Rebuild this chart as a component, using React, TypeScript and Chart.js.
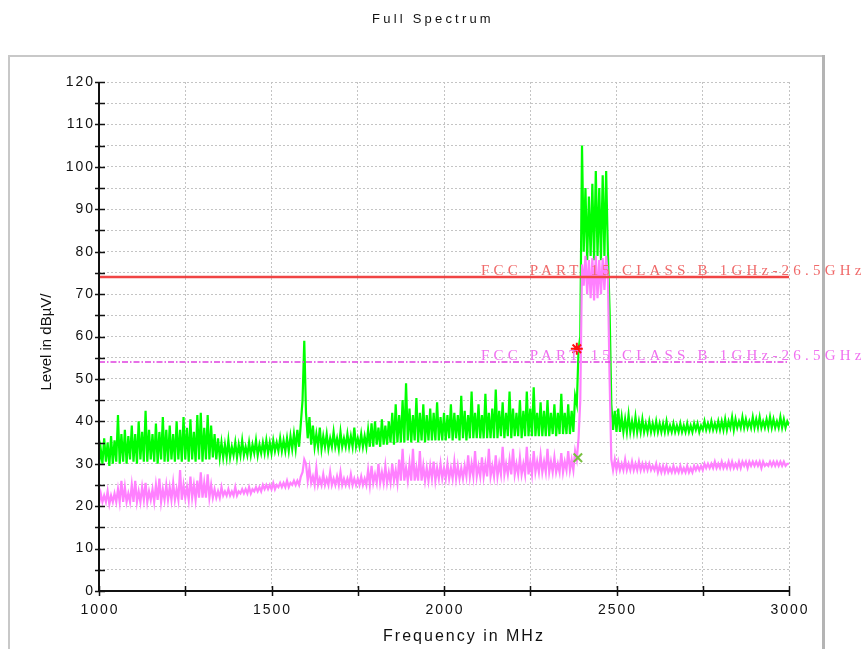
import React, { useEffect, useRef } from 'react';
import { Chart, registerables } from 'chart.js';

Chart.register(...registerables);

// Frequency grid: F_START + i * F_STEP (MHz)
const F_START = 1000;
const F_STEP = 5;

// Peak detector trace (dBµV), one value every 5 MHz from 1000 to 3000 MHz
const peakLevels: number[] = [
  // 1000
  30, 33.5, 30, 36, 30.5, 35, 29.5, 36.5, 30, 35.5, 30.5, 41.5, 30, 37, 30.5, 38, 30, 36.5, 31, 39,
  // 1100
  30.5, 37, 30, 40, 31, 37.5, 30.5, 42.5, 30.5, 38, 31, 37, 30.5, 39.5, 30, 37.5, 31, 41, 30.5, 38,
  // 1200
  30.5, 39, 31, 37, 30.5, 40, 31, 38, 30.5, 41, 31, 38.5, 30.5, 40.5, 31, 37.5, 30.5, 41.5, 31, 42,
  // 1300
  30.5, 38.5, 31, 41.5, 31, 39, 31.5, 37, 31, 36, 31.5, 35, 31.5, 34.5, 31.5, 35.5, 31.5, 34, 32, 35,
  // 1400
  31.5, 34.5, 32, 35.5, 32, 34, 32, 35, 32, 34.5, 32.5, 35.5, 32, 34.5, 32.5, 35, 32.5, 35.5, 32.5, 35,
  // 1500
  32.5, 35.5, 33, 35, 33, 36, 33, 35.5, 33, 36, 33, 36.5, 33.5, 37, 33.5, 38, 34, 39.5, 45, 59,
  // 1600
  42, 36, 41, 34.5, 39, 34, 37, 34, 38.5, 33.5, 36.5, 34, 37, 33.5, 36, 34, 37.5, 34, 36, 33.5,
  // 1700
  37.5, 34, 36, 34, 37, 34, 36.5, 34, 38.5, 34, 36, 34, 37, 34, 36.5, 34, 38, 34, 39.5, 34,
  // 1800
  40, 34.5, 38.5, 34, 40.5, 34.5, 39, 34.5, 40, 35, 42, 34.5, 44, 35, 41.5, 35, 45, 35, 49, 35.5,
  // 1900
  43, 35, 41.5, 35.5, 45.5, 35, 42, 35.5, 44, 35, 41.5, 35.5, 43, 35.5, 42, 35.5, 44.5, 35.5, 41, 35.5,
  // 2000
  42, 35.5, 41.5, 36, 44, 35.5, 42, 36, 41.5, 35.5, 46, 36, 42.5, 35.5, 41.5, 36, 47, 36, 42, 36,
  // 2100
  44, 36, 41.5, 36, 46.5, 36, 42, 36, 43, 36, 47.5, 36, 42.5, 36.5, 44.5, 36, 42, 36.5, 47, 36,
  // 2200
  43, 36.5, 42, 36.5, 45, 36, 42.5, 36.5, 47, 36.5, 43, 36.5, 48, 36.5, 42, 36.5, 44.5, 36.5, 42.5, 36.5,
  // 2300
  45, 36.5, 42, 37, 44, 36.5, 42, 37, 46.5, 37, 42, 37, 44, 37, 42.5, 37.5, 46, 44, 57, 60,
  // 2400
  105, 80, 95, 78, 93, 79, 96, 78, 99, 79, 95, 78, 98, 79, 99, 80, 66, 44, 38, 42.5,
  // 2500
  37.5, 43, 37.5, 41, 37.5, 40.5, 37.5, 41.5, 37.5, 40, 37.5, 41, 37.5, 40, 37.5, 40.5, 37.5, 39.5, 37.5, 40,
  // 2600
  37.5, 39.5, 37.5, 40, 37.5, 39.5, 37.5, 39.5, 37.5, 40, 37.5, 39, 37.5, 39.5, 37.5, 39, 37.5, 39.5, 37.5, 39,
  // 2700
  37.5, 39.5, 37.5, 39, 37.5, 39.5, 38, 39.5, 37.5, 39, 38, 40, 38, 39.5, 38, 40, 38, 39.5, 38, 40,
  // 2800
  38, 40, 38, 40.5, 38, 40, 38.5, 41, 38, 40.5, 38.5, 40, 38.5, 41, 38.5, 40.5, 38.5, 40, 38.5, 41,
  // 2900
  38.5, 40.5, 38.5, 41, 38.5, 40, 38.5, 40.5, 38.5, 41, 38.5, 40.5, 38.5, 40, 38.5, 41, 38.5, 40.5, 38.5, 40,
  // 3000
  39,
];

// Average detector trace (dBµV), one value every 5 MHz from 1000 to 3000 MHz
const avgLevels: number[] = [
  // 1000
  20.5, 23, 21, 22.5, 21, 23.5, 20.5, 22.5, 21, 23, 21, 24, 21, 26, 21, 24.5, 21, 23, 21, 25,
  // 1100
  21, 26, 21, 23.5, 21, 24.5, 21.5, 25.5, 21, 23.5, 21.5, 24, 21, 25, 21.5, 26.5, 21, 24, 21.5, 25,
  // 1200
  21.5, 24.5, 21.5, 25.5, 21.5, 24, 21.5, 28.5, 21.5, 25, 22, 24.5, 21.5, 27, 22, 25, 21.5, 26, 22, 28,
  // 1300
  22, 25.5, 22, 27.5, 22, 25, 22, 24, 22, 23.5, 22, 24.5, 22.5, 23.5, 22.5, 24, 22.5, 23.5, 22.5, 24.5,
  // 1400
  22.5, 23.5, 23, 24, 23, 24, 23, 24.5, 23, 24, 23.5, 24.5, 23.5, 24.5, 23.5, 25, 24, 25, 24, 25,
  // 1500
  24, 25.5, 24, 25, 24.5, 25.5, 24.5, 25.5, 24.5, 26, 24.5, 25.5, 25, 26, 25, 26, 25, 27, 28, 31,
  // 1600
  30, 26, 29, 25.5, 27, 25, 29, 25, 26.5, 25, 27.5, 25, 26.5, 25, 28, 25, 26.5, 25, 27, 25,
  // 1700
  28, 25, 26.5, 25, 26.5, 25, 27.5, 25, 26.5, 25, 26.5, 25, 27, 25, 26.5, 25, 28.5, 25, 29.5, 25.5,
  // 1800
  27.5, 25.5, 30, 25.5, 28, 25.5, 29.5, 25.5, 28, 25.5, 30, 26, 28.5, 25.5, 31, 26, 33.5, 26, 29, 26,
  // 1900
  30, 26, 33.5, 26, 29, 26, 33, 26, 29.5, 26, 29, 26, 29.5, 26.5, 30.5, 26, 29, 26.5, 30, 26.5,
  // 2000
  29, 26.5, 30, 26.5, 29, 26.5, 30.5, 26.5, 29.5, 26.5, 29, 26.5, 29.5, 27, 32, 27, 30, 27, 33, 27,
  // 2100
  29.5, 27, 31.5, 27, 30, 27, 33.5, 27, 29.5, 27, 32, 27, 30, 27.5, 34, 27.5, 30, 27.5, 31, 27.5,
  // 2200
  33.5, 27.5, 30, 27.5, 31.5, 27.5, 30, 27.5, 34, 27.5, 30.5, 27.5, 33, 28, 30.5, 28, 32, 28, 30.5, 28,
  // 2300
  33.5, 28, 30.5, 28, 31.5, 28, 30, 28, 32.5, 28, 30.5, 28.5, 33, 28.5, 31, 28.5, 33, 31, 36, 45,
  // 2400
  77, 72, 79, 70, 78, 69, 78.5, 68.5, 79, 69, 78, 70, 78.5, 71, 79, 74, 50, 31, 28.5, 31,
  // 2500
  28.5, 30.5, 28.5, 30, 28.5, 31, 28.5, 30, 28.5, 30.5, 28.5, 30, 28.5, 30.5, 28.5, 30, 28.5, 30, 28.5, 30,
  // 2600
  28.5, 29.5, 28.5, 30, 28, 29.5, 28, 29.5, 28, 29.5, 28, 29, 28, 29.5, 28, 29, 28, 29.5, 28, 29,
  // 2700
  28, 29.5, 28, 29, 28, 29.5, 28.5, 29.5, 28.5, 29.5, 28.5, 30, 29, 30, 29, 30, 29, 30.5, 29, 30,
  // 2800
  29, 30.5, 29, 30, 29, 30.5, 29, 30.5, 29, 30, 29, 30.5, 29, 30.5, 29.5, 30.5, 29, 30.5, 29.5, 30.5,
  // 2900
  29.5, 30.5, 29.5, 30.5, 29, 30.5, 29.5, 30, 29.5, 30.5, 29.5, 30.5, 29.5, 30.5, 29.5, 30.5, 29.5, 30.5, 29.5, 30,
  // 3000
  30,
];

const limitRange = [1000, 3000];
const limitPK = 74;
const limitAV = 54;
const limitLabelPK = 'FCC PART 15 CLASS B 1GHz-26.5GHz PK';
const limitLabelAV = 'FCC PART 15 CLASS B 1GHz-26.5GHz AV';
const limitLabelFreq = 2107;

const markerPK = { x: 2385, y: 57.1 };
const markerAV = { x: 2388, y: 31.4 };

const xMin = 1000;
const xMax = 3000;
const yMin = 0;
const yMax = 120;
const xLabelTicks = [1000, 1500, 2000, 2500, 3000];
const xMinorStep = 250;
const yLabelTicks = [0, 10, 20, 30, 40, 50, 60, 70, 80, 90, 100, 110, 120];
const yMinorStep = 5;

const titleText = 'Full Spectrum';
const xTitle = 'Frequency in MHz';
const yTitle = 'Level in dBµV/';

const W = 866;
const H = 649;

const toPoints = (vals: number[]) => vals.map((v, i) => ({ x: F_START + i * F_STEP, y: v }));

const decorPlugin = {
  id: 'decor',
  beforeDraw(chart: any) {
    const ctx = chart.ctx;
    ctx.save();
    ctx.fillStyle = '#ffffff';
    ctx.fillRect(0, 0, W, H);
    // frame
    ctx.strokeStyle = '#c8c8c8';
    ctx.lineWidth = 2;
    ctx.beginPath();
    ctx.moveTo(9, H + 5);
    ctx.lineTo(9, 56);
    ctx.lineTo(823, 56);
    ctx.stroke();
    ctx.strokeStyle = '#b4b4b4';
    ctx.lineWidth = 3;
    ctx.beginPath();
    ctx.moveTo(823.5, 55);
    ctx.lineTo(823.5, H + 5);
    ctx.stroke();
    // title
    ctx.fillStyle = '#111';
    ctx.font = "13px 'Liberation Sans', Arial, sans-serif";
    (ctx as any).letterSpacing = '3.2px';
    ctx.textAlign = 'center';
    ctx.textBaseline = 'middle';
    ctx.fillText(titleText, 433, 19);
    ctx.restore();
  },
  afterDraw(chart: any) {
    const ctx = chart.ctx;
    const { left, right, top, bottom } = chart.chartArea;
    const xs = chart.scales.x;
    const ys = chart.scales.y;
    ctx.save();
    // limit labels
    ctx.font = "15px 'Liberation Serif', 'DejaVu Serif', serif";
    (ctx as any).letterSpacing = '4.2px';
    ctx.textAlign = 'left';
    ctx.textBaseline = 'alphabetic';
    const lx = xs.getPixelForValue(limitLabelFreq);
    ctx.fillStyle = '#f06a6a';
    ctx.fillText(limitLabelPK, lx, ys.getPixelForValue(limitPK) - 2);
    ctx.fillStyle = '#f070f0';
    ctx.fillText(limitLabelAV, lx, ys.getPixelForValue(limitAV) - 2);

    // axes
    ctx.strokeStyle = '#111';
    ctx.lineWidth = 2;
    ctx.beginPath();
    ctx.moveTo(left, top);
    ctx.lineTo(left, bottom);
    ctx.lineTo(right, bottom);
    ctx.stroke();
    ctx.lineWidth = 1.5;
    ctx.beginPath();
    for (let v = yMin; v <= yMax; v += yMinorStep) {
      const py = Math.round(ys.getPixelForValue(v)) + 0.5;
      ctx.moveTo(left - 4, py);
      ctx.lineTo(left + 6, py);
    }
    for (let f = xMin; f <= xMax; f += xMinorStep) {
      const px = Math.round(xs.getPixelForValue(f)) + 0.5;
      ctx.moveTo(px, bottom - 5);
      ctx.lineTo(px, bottom + 5);
    }
    ctx.stroke();

    // tick labels
    ctx.fillStyle = '#111';
    ctx.font = "14px 'Liberation Sans', Arial, sans-serif";
    (ctx as any).letterSpacing = '2px';
    ctx.textAlign = 'right';
    ctx.textBaseline = 'middle';
    yLabelTicks.forEach((v) => {
      ctx.fillText(String(v), left - 4, ys.getPixelForValue(v));
    });
    ctx.textAlign = 'center';
    ctx.textBaseline = 'top';
    xLabelTicks.forEach((f) => {
      ctx.fillText(String(f), xs.getPixelForValue(f) + 1, bottom + 12);
    });

    // axis titles
    ctx.font = "16px 'Liberation Sans', Arial, sans-serif";
    (ctx as any).letterSpacing = '2px';
    ctx.textAlign = 'center';
    ctx.textBaseline = 'middle';
    ctx.fillText(xTitle, 464, 637);
    (ctx as any).letterSpacing = '0px';
    ctx.font = "15px 'Liberation Sans', Arial, sans-serif";
    ctx.translate(47, 342);
    ctx.rotate(-Math.PI / 2);
    ctx.fillText(yTitle, 0, 0);
    ctx.restore();
  },
};

export default function App() {
  const ref = useRef<HTMLCanvasElement | null>(null);
  useEffect(() => {
    if (!ref.current) return;
    const chart = new Chart(ref.current, {
      type: 'line',
      data: {
        datasets: [
          {
            label: 'PK marker',
            data: [markerPK],
            showLine: false,
            pointStyle: 'star',
            pointRadius: 6,
            pointBorderWidth: 2,
            borderColor: '#ff1010',
            backgroundColor: '#ff1010',
            order: -2,
          },
          {
            label: 'AV marker',
            data: [markerAV],
            showLine: false,
            pointStyle: 'crossRot',
            pointRadius: 6,
            pointBorderWidth: 2,
            borderColor: '#78c040',
            backgroundColor: '#78c040',
            order: -1,
          },
          {
            label: 'PK limit',
            data: limitRange.map((f) => ({ x: f, y: limitPK })),
            borderColor: '#f04444',
            borderWidth: 2.5,
            pointRadius: 0,
            order: 0,
          },
          {
            label: 'AV limit',
            data: limitRange.map((f) => ({ x: f, y: limitAV })),
            borderColor: '#e040e0',
            borderWidth: 1.5,
            borderDash: [6, 2, 1.5, 2],
            pointRadius: 0,
            order: 0,
          },
          {
            label: 'AV',
            data: toPoints(avgLevels),
            borderColor: '#ff80ff',
            borderWidth: 2.2,
            pointRadius: 0,
            tension: 0,
            order: 2,
          },
          {
            label: 'PK',
            data: toPoints(peakLevels),
            borderColor: '#00ff00',
            borderWidth: 2.2,
            pointRadius: 0,
            tension: 0,
            order: 3,
          },
        ],
      },
      options: {
        animation: false,
        responsive: false,
        maintainAspectRatio: false,
        devicePixelRatio: 1,
        layout: { padding: { left: 99, top: 82, right: W - 789, bottom: H - 591 } },
        plugins: {
          legend: { display: false },
          title: { display: false },
          tooltip: { enabled: false },
        },
        scales: {
          x: {
            type: 'linear',
            min: xMin,
            max: xMax,
            ticks: { display: false, stepSize: xMinorStep },
            grid: { color: '#c4c4c4', lineWidth: 1, drawTicks: false },
            border: { display: false, dash: [2, 2] },
          },
          y: {
            type: 'linear',
            min: yMin,
            max: yMax,
            ticks: { display: false, stepSize: yMinorStep },
            grid: { color: '#c4c4c4', lineWidth: 1, drawTicks: false },
            border: { display: false, dash: [2, 2] },
          },
        },
      },
      plugins: [decorPlugin],
    });
    return () => chart.destroy();
  }, []);
  return (
    <canvas
      ref={ref}
      width={W}
      height={H}
      style={{ position: 'absolute', left: 0, top: 0, width: W, height: H }}
    />
  );
}
